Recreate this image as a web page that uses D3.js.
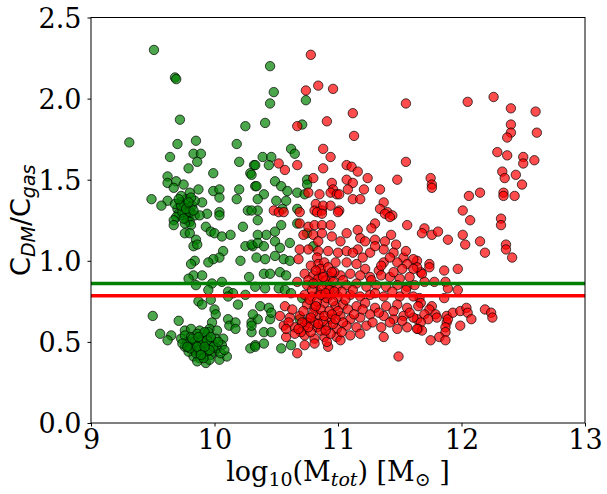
<!doctype html>
<html>
<head>
<script src="https://cdnjs.cloudflare.com/ajax/libs/d3/7.8.5/d3.min.js"></script>
<style>
body { margin: 0; background: #fff; }
.tick text { font-family: "DejaVu Serif", serif; font-size: 27px; fill: #000; }
.tick line { stroke: #000; }
</style>
</head>
<body>
<svg id="chart" width="607" height="494"></svg>
<script>
// log10(Mtot), C_DM/C_gas  -- green sample
var greenPoints = [
  [9.51,2.30],[9.68,2.13],[9.69,2.12],[9.72,1.87],[10.25,1.83],[9.31,1.73],[9.70,1.72],[9.85,1.74],[10.18,1.72],
  [9.83,1.66],[9.89,1.66],[9.64,1.64],[9.86,1.61],[10.20,1.61],[9.79,1.57],[10.32,1.59],[9.99,1.54],[10.29,1.54],
  [9.62,1.52],[9.62,1.48],[9.69,1.49],[9.75,1.47],[9.67,1.45],[9.87,1.44],[9.99,1.43],[10.04,1.44],[10.20,1.44],
  [10.33,1.46],[10.04,1.39],[10.18,1.38],[9.49,1.38],[9.62,1.37],[9.57,1.34],[9.90,1.36],[9.80,1.42],
  [9.94,1.29],[10.04,1.30],[10.04,1.28],[10.27,1.31],
  [9.72,1.36],[9.75,1.33],[9.78,1.35],[9.80,1.31],[9.74,1.28],[9.70,1.32],[9.77,1.38],[9.82,1.34],[9.73,1.40],
  [9.79,1.27],[9.71,1.29],[9.76,1.30],[9.68,1.35],[9.84,1.37],[9.81,1.39],[9.69,1.27],[9.78,1.25],[9.74,1.30],
  [9.80,1.30],[9.84,1.28],[9.80,1.24],[9.81,1.22],[9.67,1.25],[9.67,1.22],[9.76,1.23],[9.88,1.28],
  [9.73,1.34],[9.77,1.32],[9.79,1.36],[9.75,1.26],[9.71,1.38],[9.83,1.31],
  [9.76,1.17],[9.80,1.17],[9.85,1.13],[9.83,1.09],[9.86,1.10],[9.93,1.21],[9.97,1.18],[10.00,1.17],[10.06,1.15],
  [10.13,1.16],[10.23,1.21],[10.07,1.06],[10.04,1.02],[9.99,1.01],[9.95,0.99],[9.84,1.00],[9.81,0.98],[10.21,1.00],
  [10.25,1.09],[10.31,1.09],[9.83,0.91],[9.79,0.89],[9.90,0.91],[9.85,0.85],[9.98,0.86],[10.06,0.87],[9.95,0.82],
  [10.28,0.90],[10.11,0.81],[10.15,0.80],[10.11,0.78],[10.25,0.79],[9.97,0.76],[9.87,0.75],[9.90,0.73],[10.19,0.73],
  [10.00,0.70],[10.01,0.67],[9.50,0.66],[9.71,0.63],[10.11,0.64],[10.12,0.60],[10.17,0.62],[10.17,0.58],[10.30,0.62],
  [10.30,0.56],[9.98,0.62],[9.96,0.58],[10.02,0.57],[9.56,0.55],[9.65,0.54],[9.62,0.51],
  [9.76,0.57],[9.81,0.58],[9.88,0.57],[9.73,0.52],[9.76,0.47],[9.83,0.41],[9.93,0.37],[10.04,0.39],[10.10,0.41],
  [10.07,0.52],[10.06,0.48],[10.00,0.44],[9.87,0.44],[9.92,0.49],[9.80,0.50],[9.85,0.52],[9.90,0.46],[9.95,0.48],
  [9.82,0.47],[9.88,0.40],[9.97,0.42],[10.02,0.46],[9.78,0.50],[9.93,0.53],[9.86,0.55],[9.98,0.50],[10.05,0.43],
  [9.84,0.45],[9.91,0.43],[9.76,0.54],[9.95,0.56],[9.79,0.44],[9.83,0.49],[9.89,0.51],[9.94,0.44],[10.01,0.52],
  [9.96,0.39],[9.86,0.38],[9.81,0.53],[9.74,0.49],[10.08,0.45],[9.92,0.56],[9.99,0.47],[9.87,0.48],[9.91,0.40],
  [9.85,0.43],[10.03,0.50],[10.29,0.46],[10.33,0.48],
  [9.88,0.45],[9.84,0.50],[9.90,0.50],[9.94,0.51],[9.80,0.46],[9.86,0.47],[9.96,0.45],[9.92,0.47],[9.89,0.42],
  [9.82,0.52],[9.87,0.53],[9.97,0.53],[9.78,0.47],
  [10.35,1.25],[10.54,1.22],[10.67,1.23],[10.49,1.18],[10.42,1.16],[10.35,1.16],[10.30,1.10],[10.35,1.11],[10.40,1.09],
  [10.49,1.12],[10.53,1.08],[10.61,1.11],[10.34,1.02],[10.41,1.01],[10.49,1.03],[10.56,1.01],[10.61,1.00],[10.40,0.92],
  [10.45,0.92],[10.53,0.93],[10.58,0.91],[10.33,0.84],[10.41,0.83],[10.52,0.83],[10.57,0.82],[10.62,0.80],[10.37,0.72],
  [10.44,0.71],[10.45,0.64],[10.35,0.64],[10.31,0.67],[10.46,0.68],[10.30,0.60],[10.40,0.56],[10.46,0.56],[10.33,0.47],
  [10.40,0.49],[10.54,0.46],[10.62,0.48],[10.75,1.17],[10.80,1.09],[10.71,0.77],[10.69,0.64],
  [10.45,2.20],[10.48,2.04],[10.45,1.97],[10.74,1.99],[10.41,1.85],[10.71,1.84],[10.62,1.69],[10.65,1.66],[10.39,1.64],
  [10.46,1.64],[10.33,1.59],[10.44,1.59],[10.30,1.53],[10.34,1.46],[10.49,1.49],[10.54,1.46],[10.59,1.43],[10.75,1.50],
  [10.75,1.47],[10.67,1.42],[10.73,1.41],[10.40,1.41],[10.35,1.38],[10.50,1.37],[10.58,1.37],[10.55,1.32],[10.67,1.32],
  [10.35,1.31],[10.30,1.31]
];

// red sample
var redPoints = [
  [10.78,2.27],[10.74,2.05],[10.84,2.08],[10.96,2.06],[11.55,1.97],[11.12,1.91],[10.67,1.83],[10.91,1.86],[11.13,1.77],
  [10.88,1.69],[10.94,1.64],[11.55,1.61],[10.52,1.60],[10.67,1.59],[10.57,1.56],[10.88,1.57],[11.07,1.59],[11.11,1.58],
  [11.16,1.55],[11.24,1.51],[11.48,1.50],[10.80,1.51],[10.76,1.42],[10.85,1.41],[10.95,1.48],[10.96,1.44],[10.94,1.42],
  [10.99,1.41],[11.01,1.41],[11.07,1.50],[11.12,1.48],[11.08,1.44],[11.21,1.44],[11.34,1.44],[11.12,1.38],[11.18,1.38],
  [11.37,1.36],[11.34,1.32],[11.40,1.30],[11.44,1.28],[10.48,1.31],[10.52,1.30],[10.69,1.30],[10.82,1.35],[10.81,1.31],
  [10.87,1.31],[10.88,1.34],[10.94,1.34],[11.01,1.31],
  [12.05,1.98],[12.26,2.01],[12.40,1.94],[12.60,1.92],[12.40,1.84],[12.40,1.79],[12.37,1.76],[12.61,1.79],[12.29,1.67],
  [12.37,1.65],[12.50,1.64],[12.50,1.60],[12.59,1.62],[11.75,1.51],[11.76,1.47],[11.76,1.45],[12.33,1.55],[12.35,1.51],
  [12.44,1.53],[12.49,1.47],[12.15,1.42],[12.06,1.40],[12.34,1.42],[12.34,1.40],[12.43,1.40],[12.01,1.31],[12.07,1.25],
  [12.32,1.26],[12.32,1.22],
  [11.70,1.20],[11.68,1.17],[11.76,1.16],[11.81,1.18],[11.89,1.13],[12.01,1.16],[12.03,1.10],[12.15,1.12],[12.19,1.05],
  [12.36,1.10],[12.36,1.07],[12.41,1.02],[11.97,0.95],[11.86,0.94],[11.74,0.98],[11.74,0.96],[11.67,0.93],[11.68,0.92],
  [11.64,1.00],[11.70,0.87],[11.78,0.87],[11.87,0.87],[11.89,0.83],[11.86,0.77],[11.97,0.82],[11.66,0.77],[11.67,0.74],
  [11.65,0.72],[11.76,0.72],[11.74,0.70],[11.70,0.67],[11.79,0.67],[11.80,0.65],[11.73,0.64],[11.64,0.64],[11.67,0.62],
  [11.65,0.58],[11.68,0.57],[11.88,0.66],[11.88,0.62],[11.89,0.64],[11.87,0.59],[11.87,0.56],[11.93,0.68],[11.99,0.69],
  [12.04,0.71],[12.05,0.68],[12.08,0.64],[11.99,0.60],[12.19,0.70],[12.24,0.68],[12.25,0.65],[11.82,0.53],[11.75,0.51],
  [11.87,0.51],
  [10.56,1.30],[10.83,1.30],[10.87,1.29],[11.00,1.30],[10.69,1.23],[10.76,1.21],[10.81,1.22],[10.87,1.22],[10.94,1.22],
  [11.07,1.17],[11.16,1.19],[11.30,1.23],[11.27,1.20],[11.38,1.29],[11.42,1.27],[11.56,1.22],[10.72,1.16],[10.80,1.16],
  [10.87,1.17],[10.95,1.15],[11.02,1.12],[10.84,1.12],[11.18,1.14],[11.22,1.12],[11.30,1.13],[11.38,1.12],[11.43,1.16],
  [11.47,1.10],[10.69,1.07],[10.76,1.07],[10.84,1.06],[10.92,1.06],[11.00,1.05],[11.07,1.06],[11.16,1.07],[11.26,1.05],
  [11.37,1.07],[11.45,1.05],[11.53,1.02],[11.61,1.01],[11.64,0.96],[10.68,1.01],[10.83,1.02],[10.84,0.98],[10.89,0.99],
  [10.98,0.99],[11.07,0.99],[11.15,0.98],[11.22,0.95],[11.33,0.94],[11.37,0.99],[11.48,0.99],[11.56,0.98],[11.61,0.95],
  [10.73,0.92],[10.80,0.91],[10.87,0.92],[10.94,0.90],[11.02,0.91],[11.10,0.92],[11.18,0.91],[11.26,0.90],[11.35,0.91],
  [11.42,0.90],[11.50,0.89],[11.58,0.90],[10.67,0.87],[10.75,0.85],[10.83,0.86],[10.91,0.85],[10.99,0.84],[11.07,0.85],
  [11.15,0.86],[11.23,0.84],[11.31,0.85],[11.39,0.84],[11.48,0.85],[11.56,0.84],[11.62,0.85],[10.73,0.79],[10.79,0.78],
  [10.85,0.80],[10.94,0.79],[11.00,0.78],[11.10,0.79],[11.18,0.78],[11.26,0.79],[11.37,0.78],[11.50,0.78],[11.61,0.78],
  [10.57,0.72],[10.75,0.73],[10.81,0.71],[10.89,0.74],[10.98,0.72],[11.04,0.73],[11.15,0.72],[11.22,0.74],[11.30,0.71],
  [11.39,0.72],[11.48,0.73],[11.56,0.71],[10.53,0.66],[10.61,0.65],[10.69,0.66],[10.77,0.64],[10.85,0.66],[10.94,0.64],
  [11.02,0.66],[11.10,0.64],[11.18,0.65],[11.26,0.67],[11.37,0.66],[11.45,0.64],[11.53,0.66],[11.61,0.65],[10.56,0.60],
  [10.65,0.59],[10.73,0.60],[10.83,0.59],[10.91,0.60],[10.99,0.58],[11.07,0.60],[11.15,0.59],[11.23,0.60],[11.35,0.59],
  [11.48,0.58],[11.56,0.59],[11.64,0.58],[10.58,0.53],[10.73,0.54],[10.81,0.52],[10.89,0.53],[10.99,0.53],[11.10,0.54],
  [11.18,0.55],[11.37,0.53],[10.73,0.48],[10.81,0.49],[10.92,0.47],[11.02,0.51],[10.91,0.50],[10.67,0.43],[11.49,0.41],
  [10.78,0.97],[10.86,0.95],[10.92,0.96],[10.97,0.93],[10.76,0.88],[10.84,0.89],[10.90,0.88],[10.96,0.87],[11.04,0.88],
  [10.79,0.82],[10.87,0.83],[10.93,0.82],[11.03,0.81],[10.77,0.76],[10.83,0.75],[10.91,0.77],[10.96,0.75],[11.06,0.76],
  [10.72,0.69],[10.80,0.68],[10.86,0.70],[10.93,0.69],[11.00,0.69],[11.08,0.70],[10.75,0.62],[10.81,0.62],[10.88,0.63],
  [10.96,0.61],[11.04,0.62],[10.70,0.56],[10.78,0.56],[10.86,0.57],[10.94,0.55],[11.03,0.56],[10.60,0.62],[10.63,0.70],
  [10.65,0.55],[10.58,0.58],[11.12,0.82],[11.13,0.67],[11.20,0.70],[11.28,0.62],[11.33,0.68],[11.42,0.62],[11.45,0.69],
  [11.52,0.63],[11.58,0.68],[11.30,0.80],[11.44,0.81],[11.55,0.82],[11.27,0.88],[11.35,0.97],[11.45,0.93],[11.52,0.95],
  [11.20,1.02],[11.12,1.05],[11.30,1.09],[11.42,1.02],[11.55,1.06],
  [10.82,0.94],[10.88,0.90],[10.95,0.93],[10.80,0.86],[10.86,0.79],[10.90,0.80],[10.97,0.81],[10.82,0.72],[10.89,0.66],
  [10.95,0.67],[10.78,0.65],[10.84,0.61],[10.90,0.57],[10.98,0.64],[10.76,0.59],[10.71,0.62],[10.68,0.58]
];

// horizontal reference levels (median of each sample)
var medianGreen = 0.86;
var medianRed = 0.785;

var xTicks = [9, 10, 11, 12, 13];
var yTicks = [0.0, 0.5, 1.0, 1.5, 2.0, 2.5];

var margin = {left: 91, top: 17.5, right: 22, bottom: 71};
var svg = d3.select("#chart");
var width = 607 - margin.left - margin.right;
var height = 494 - margin.top - margin.bottom;

var x = d3.scaleLinear().domain([9, 13]).range([0, width]);
var y = d3.scaleLinear().domain([0, 2.5]).range([height, 0]);

var g = svg.append("g").attr("transform", "translate(" + margin.left + "," + margin.top + ")");

function drawPoints(data, color) {
  g.append("g").selectAll("circle")
    .data(data)
    .enter()
    .append("circle")
    .attr("cx", d => x(d[0]))
    .attr("cy", d => y(d[1]))
    .attr("r", 4.7)
    .style("fill", color)
    .style("fill-opacity", 0.7)
    .style("stroke", "#000")
    .style("stroke-opacity", 0.7)
    .style("stroke-width", 1);
}

drawPoints(greenPoints, "#008000");
drawPoints(redPoints, "#ff0000");

g.append("line")
  .attr("x1", 0).attr("x2", width)
  .attr("y1", y(medianGreen)).attr("y2", y(medianGreen))
  .style("stroke", "#008000").style("stroke-width", 3.5);
g.append("line")
  .attr("x1", 0).attr("x2", width)
  .attr("y1", y(medianRed)).attr("y2", y(medianRed))
  .style("stroke", "#ff0000").style("stroke-width", 3.5);

// axes
var xAxis = g.append("g")
  .attr("transform", "translate(0," + height + ")")
  .call(d3.axisBottom(x).tickValues(xTicks).tickFormat(d3.format("d")).tickSize(3.5));
xAxis.selectAll(".tick text").attr("y", 26).attr("dy", null);

var yAxis = g.append("g")
  .call(d3.axisLeft(y).tickValues(yTicks).tickFormat(d3.format(".1f")).tickSize(3.5).tickPadding(6));
yAxis.selectAll(".tick text").attr("dy", "0.36em");
g.selectAll(".domain").remove();

// frame
g.append("rect")
  .attr("width", width).attr("height", height)
  .style("fill", "none").style("stroke", "#000").style("stroke-width", 1);

// x label
var xl = svg.append("text")
  .attr("x", margin.left + width / 2)
  .attr("y", 481)
  .attr("text-anchor", "middle")
  .style("font-family", "'DejaVu Serif', serif")
  .style("font-size", "27px");
xl.append("tspan").text("log");
xl.append("tspan").attr("dy", 5).style("font-size", "19px").text("10");
xl.append("tspan").attr("dy", -5).text("(M");
xl.append("tspan").attr("dy", 5).style("font-size", "19px").style("font-style", "italic").text("tot");
xl.append("tspan").attr("dy", -5).text(") [M");
xl.append("tspan").attr("dy", 5).style("font-size", "19px").text("\u2299");
xl.append("tspan").attr("dy", -5).text(" ]");

// y label
var yl = svg.append("text")
  .attr("transform", "translate(30," + (margin.top + height / 2) + ") rotate(-90)")
  .attr("text-anchor", "middle")
  .style("font-family", "'DejaVu Sans', sans-serif")
  .style("font-size", "27px");
yl.append("tspan").text("C");
yl.append("tspan").attr("dy", 5).style("font-size", "19px").style("font-style", "italic").text("DM");
yl.append("tspan").attr("dy", -5).text("/C");
yl.append("tspan").attr("dy", 5).style("font-size", "19px").style("font-style", "italic").text("gas");
</script>
</body>
</html>
